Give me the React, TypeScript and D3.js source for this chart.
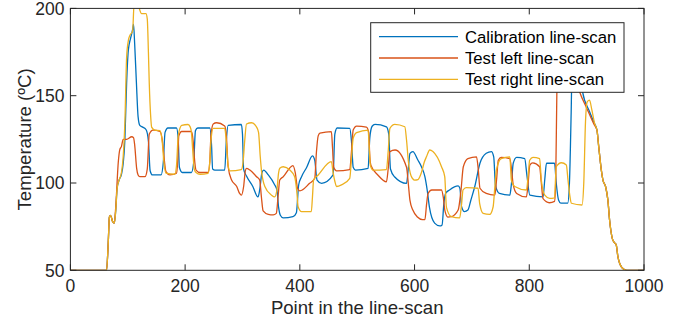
import React from "react";
import * as d3 from "d3";

const seriesNames = ["Calibration line-scan", "Test left line-scan", "Test right line-scan"];
const seriesColors = ["#0072BD", "#D95319", "#EDB120"];
const xTicks = [0, 200, 400, 600, 800, 1000];
const yTicks = [50, 100, 150, 200];

const startPts: [number, number][] = [[0, 50], [63, 50], [66, 66], [68, 80.5], [70, 81.5], [73.5, 78], [76.5, 77]];
const tailPts: [number, number][] = [[918, 130.3], [921, 121], [925.6, 107.4], [928.4, 101.7], [933, 98], [937, 90.3], [940, 78.8], [944.7, 68.3], [948, 66], [951.6, 64.5], [954.5, 57.8], [957.5, 54], [960.5, 52], [965, 50.6], [970, 50], [1000, 50]];

const calibration: [number, number][] = [
  [79, 84], [81.5, 97], [85, 101.7], [89, 105], [92, 111], [95, 125], [98, 157], [101, 176], [105, 183], [108.5, 188], [110, 191],
  [112, 180], [115, 158], [118, 138], [121, 133], [126, 132], [132, 130.5], [136, 124], [139, 107], [143, 104.6], [158, 104.6],
  [162, 112], [165, 129], [170, 131.5], [185, 131.5], [188, 125], [190, 109], [195, 106], [211, 106], [215, 112], [218, 130],
  [222, 131.5], [243, 131.5], [246, 122], [248, 108], [252, 107.4], [269, 107.4], [272, 125], [275, 133], [298, 133.5], [300, 128],
  [302, 108], [307, 104], [318, 98], [327, 92], [330, 96], [334, 106], [337, 107.4], [345, 104.6], [356, 99], [360, 96], [363, 86],
  [366, 81.5], [371, 80], [388, 80.7], [394, 83], [398, 99], [403, 103.6], [412, 109], [422, 115.5], [426, 113], [430, 101.7],
  [438, 99.8], [458, 104.6], [461, 128], [465, 131.5], [487, 131.3], [490, 124], [493, 109], [497, 107.4], [519, 108.4], [522, 126],
  [526, 132.5], [531, 133.6], [551, 132.2], [555, 128], [558, 108], [565, 103.6], [586, 99.8], [589, 108], [592, 117], [597, 118],
  [606, 113], [612, 109.3], [618, 103.6], [622, 96], [626, 86], [635, 77], [644, 75.4], [648, 76], [651, 88], [654, 94], [661, 96],
  [676, 98.3], [679, 97], [682, 86.4], [687, 83.6], [693, 84.5], [698, 90], [705, 98], [714, 111.3], [725, 117], [734, 118],
  [738, 115], [741, 99], [745, 95], [748, 94], [766, 93], [769, 100], [772, 111.3], [778, 114.7], [792, 114], [796, 104], [801, 93],
  [824, 92], [827, 102], [830, 111.3], [844, 111.3], [847, 100], [851, 90.3], [855, 88.5], [867, 88.5], [870, 100], [873, 140],
  [875, 172], [885, 175], [893, 152], [905, 141], [913, 134.5],
];

const testLeft: [number, number][] = [
  [79, 86], [83.5, 112], [86, 119], [89, 121], [92, 125], [98, 125], [107, 126.5], [110, 126], [112, 122], [115.5, 108.4], [118, 104.6],
  [121, 103.6], [130, 103.6], [134, 108], [137.5, 128], [144, 130.3], [156, 129.5], [160, 125], [162, 119], [166.6, 106.5],
  [173.5, 104.6], [185, 105.6], [187, 112], [189, 127], [194, 129.5], [211, 129.5], [214, 124], [216, 115], [219, 107.4], [226, 106],
  [240, 106], [243, 112], [245, 127], [249, 133.8], [255, 134.5], [269, 132.6], [272, 126.5], [275, 109.3], [281, 101.7], [290, 98],
  [295, 94], [298, 93], [302, 98], [305, 107], [307, 108.4], [313, 107.4], [324.6, 103.6], [330, 101.7], [333, 92], [336, 84],
  [345, 82], [353.5, 81.7], [359, 82.6], [362, 92], [365, 101.7], [371, 103.6], [388, 110], [392, 106], [396, 97], [400, 95.5],
  [417, 99.8], [426, 102.7], [429, 118], [432, 127], [435, 128.5], [455, 129.4], [457, 120], [459, 109], [464, 107], [487, 107.7],
  [490, 118], [493, 130.3], [499, 132.6], [516, 132], [520, 129], [522, 115], [524, 110], [536, 104.6], [551, 100.7], [554, 108],
  [557, 118], [566, 118.9], [586, 109], [589, 100], [592, 90], [597, 84.5], [605, 80.5], [614, 79], [618, 79], [621, 88],
  [623.5, 94], [630, 96], [647, 96], [650, 92], [653, 84], [658, 80.5], [664, 80.7], [676, 84.5], [681, 96], [685, 109.3],
  [693, 114], [708, 115], [711, 108], [714, 97], [725, 94], [740, 93], [743, 102], [746, 113], [751, 114.7], [766, 114], [769, 108],
  [772, 99], [778, 94], [795, 92], [798, 100], [801, 110.3], [806, 111.5], [818, 109.3], [821, 100], [824, 91], [835, 88.7],
  [844, 89.5], [846, 100], [848, 150], [850, 172], [870, 175], [888, 152], [900, 143], [913, 133.5],
];

const testRight: [number, number][] = [
  [79, 84], [81.5, 97], [85, 101.7], [89, 106], [92, 115], [95, 135], [98, 172], [101, 181.6], [104, 184.7], [108.5, 187], [111, 202],
  [118, 203], [121, 199], [124, 197], [131.7, 197], [134, 194], [136, 175], [137.5, 157], [140, 138], [141.6, 132], [147, 130.3],
  [156, 130], [160, 124], [163, 112], [166.6, 105.6], [182, 105], [185, 110], [188, 127], [194, 133], [205, 133.5], [209, 132],
  [211, 129], [213, 120], [216, 108], [219, 106], [226, 105], [240, 105.5], [243, 112], [245, 124], [249, 131.3], [269, 131.3],
  [272, 123], [275, 110], [278, 107], [298, 107.7], [301, 112], [304, 124.6], [307, 133.8], [316, 134.5], [324.6, 132], [328, 129],
  [331, 115], [333, 107.4], [339, 98], [350.7, 93], [356, 92], [360, 96], [363, 106], [365, 108.4], [371, 109.3], [382.6, 107.4],
  [391, 103.6], [395, 94], [397, 86.4], [403, 83.6], [420, 83.6], [422, 92], [424, 101.7], [432, 104.6], [455, 112.2], [458, 106],
  [461, 101], [464, 98], [472.6, 98.9], [487, 102.7], [490, 114], [493, 125.6], [499, 128.8], [519, 130.3], [521, 120], [523, 110],
  [527.7, 107.4], [551, 107.7], [554, 118], [557, 131.3], [565.5, 133.6], [583, 132.2], [586, 124.6], [589, 113], [594, 104],
  [600, 101.7], [606, 102], [612, 106], [617, 112], [620.7, 115], [626.5, 118.9], [632, 118], [647, 109.3], [652.6, 103.6],
  [655.6, 86], [664, 80.7], [678.6, 80], [682, 88], [684.5, 96], [690, 97.4], [710.6, 97], [713.6, 88], [719.5, 82.6], [731, 82],
  [737, 86.4], [740, 98], [742.7, 107.4], [751, 114], [766, 115], [768.8, 101.7], [774.6, 98], [795, 96], [798, 104], [800.7, 113],
  [806.4, 114.7], [818, 114], [821, 101.7], [827, 93], [835.5, 91.2], [844, 91.5], [847, 109.3], [856, 111.6], [864.6, 110.3],
  [867.5, 101.7], [871, 92], [873.5, 88.4], [892, 87.4], [895, 100], [898, 135], [901, 146.5], [905, 147.5], [909, 142], [914, 134],
];

const allSeries = [calibration, testLeft, testRight].map((s) => [...startPts, ...s, ...tailPts]);

const W = 691;
const H = 322;
const left = 70.4;
const right = 644;
const top = 8.4;
const bottom = 270.3;
const axisColor = "#262626";
const font = "'Liberation Sans', Arial, Helvetica, sans-serif";

export default function App() {
  const x = d3.scaleLinear().domain([0, 1000]).range([left, right]);
  const y = d3.scaleLinear().domain([50, 200]).range([bottom, top]);
  const line = d3
    .line<[number, number]>()
    .x((d) => x(d[0]))
    .y((d) => y(d[1]))
    .curve(d3.curveMonotoneX);
  const tick = 6;
  const legX0 = 370.7, legY0 = 22.7, legW = 253.3, legH = 69.6;
  const rowY = [36.7, 58, 79.3];
  return (
    <svg width={W} height={H} style={{ position: "absolute", left: 0, top: 0, background: "#fff" }} fontFamily={font}>
      <defs>
        <clipPath id="plotclip">
          <rect x={left} y={top} width={right - left} height={bottom - top} />
        </clipPath>
      </defs>
      <rect x={0} y={0} width={W} height={H} fill="#fff" />
      <g clipPath="url(#plotclip)">
        {allSeries.map((s, i) => (
          <path key={i} d={line(s) || ""} fill="none" stroke={seriesColors[i]} strokeWidth={1.3} strokeLinejoin="round" />
        ))}
      </g>
      <rect x={left} y={top} width={right - left} height={bottom - top} fill="none" stroke={axisColor} strokeWidth={1} />
      {xTicks.map((t) => (
        <g key={"x" + t}>
          <line x1={x(t)} x2={x(t)} y1={bottom} y2={bottom - tick} stroke={axisColor} />
          <line x1={x(t)} x2={x(t)} y1={top} y2={top + tick} stroke={axisColor} />
          <text x={x(t)} y={292.3} fontSize={17.5} textAnchor="middle" fill={axisColor}>
            {t}
          </text>
        </g>
      ))}
      {yTicks.map((t) => (
        <g key={"y" + t}>
          <line x1={left} x2={left + tick} y1={y(t)} y2={y(t)} stroke={axisColor} />
          <line x1={right} x2={right - tick} y1={y(t)} y2={y(t)} stroke={axisColor} />
          <text x={64.5} y={y(t)} dy="0.36em" fontSize={17.5} textAnchor="end" fill={axisColor}>
            {t}
          </text>
        </g>
      ))}
      <text x={(left + right) / 2} y={313.5} fontSize={18.6} textAnchor="middle" fill={axisColor}>
        Point in the line-scan
      </text>
      <text
        transform={`translate(30.5, ${(top + bottom) / 2}) rotate(-90)`}
        fontSize={18.6}
        textAnchor="middle"
        fill={axisColor}
      >
        Temperature (ºC)
      </text>
      <rect x={legX0} y={legY0} width={legW} height={legH} fill="#fff" stroke={axisColor} strokeWidth={1} />
      {seriesNames.map((n, i) => (
        <g key={n}>
          <line x1={379} x2={458} y1={rowY[i]} y2={rowY[i]} stroke={seriesColors[i]} strokeWidth={1.3} />
          <text x={465} y={rowY[i]} dy="0.36em" fontSize={16.7} fill="#000">
            {n}
          </text>
        </g>
      ))}
    </svg>
  );
}
